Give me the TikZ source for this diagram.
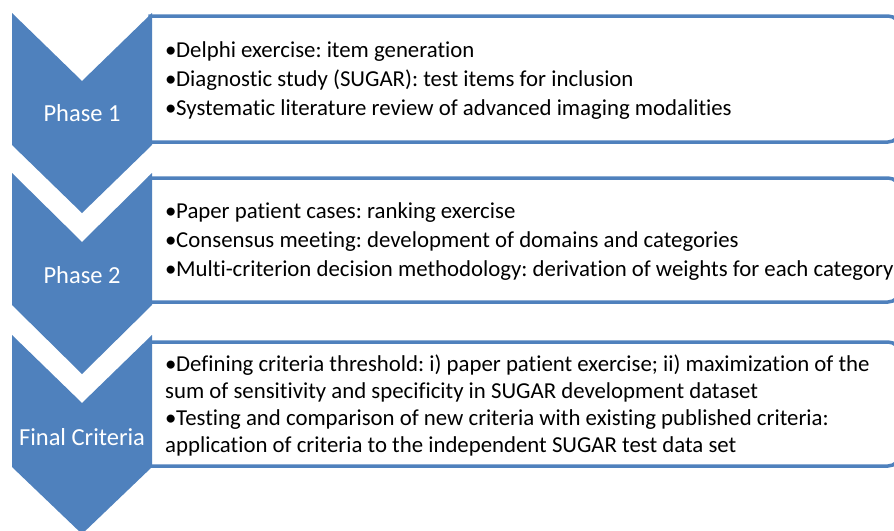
\documentclass[tikz,border=0pt]{standalone}
\usepackage{fontspec}
\setmainfont{Carlito}[Ligatures=NoCommon]
\frenchspacing
\definecolor{chevblue}{HTML}{4F81BD}
\newcommand{\bul}{\makebox[11pt][l]{\textbullet}}
\tikzset{
	chev/.style={fill=chevblue},
	chevlabel/.style={text=white, font=\fontsize{24.5}{29}\selectfont},
	listbox/.style={draw=chevblue, line width=3.5pt, fill=white},
	listtext/.style={anchor=west, align=left, inner sep=0pt, font=\fontsize{22.8}{29}\selectfont},
}

\begin{document}
\begin{tikzpicture}[x=1pt, y=-1pt]
		\useasboundingbox (0,0) rectangle (894,530);
		% boxes behind the chevrons, rounded on the right only
		\draw[listbox] (150,16) [rounded corners=12pt] -- (900,16) -- (900,142) [sharp corners] -- (150,142) -- cycle;
		\draw[listbox] (150,178) [rounded corners=12pt] -- (900,178) -- (900,302) [sharp corners] -- (150,302) -- cycle;
		\draw[listbox] (150,342) [rounded corners=12pt] -- (900,342) -- (900,466) [sharp corners] -- (150,466) -- cycle;
		% chevrons
		\fill[chev] (12,13) -- (82,81) -- (152,13) -- (152,145) -- (82,213) -- (12,145) -- cycle;
		\fill[chev] (12,173) -- (82,242) -- (152,173) -- (152,305) -- (82,374) -- (12,305) -- cycle;
		\fill[chev] (12,335) -- (82,403) -- (152,335) -- (152,467) -- (82,534) -- (12,467) -- cycle;
		\node[chevlabel] (p1) at (82,113) {Phase 1};
		\node[chevlabel] (p2) at (82,275) {Phase 2};
		\node[chevlabel] (p3) at (82,437) {Final Criteria};
		% lists
		\node[listtext] (l1) at (165,81) {\bul Delphi exercise: item generation\\
			\bul Diagnostic study (SUGAR): test items for inclusion\\
			\bul Systematic literature review of advanced imaging modalities};
		\node[listtext] (l2) at (165,242) {\bul Paper patient cases: ranking exercise\\
			\bul Consensus meeting: development of domains and categories\\
			\bul Multi-criterion decision methodology: derivation of weights for each category};
		\node[listtext, font=\fontsize{22.8}{27}\selectfont] (l3) at (165,405) {\bul Defining criteria threshold: i) paper patient exercise; ii) maximization of the\\
			sum of sensitivity and specificity in SUGAR development dataset\\
			\bul Testing and comparison of new criteria with existing published criteria:\\
			application of criteria to the independent SUGAR test data set};
\end{tikzpicture}
\end{document}
